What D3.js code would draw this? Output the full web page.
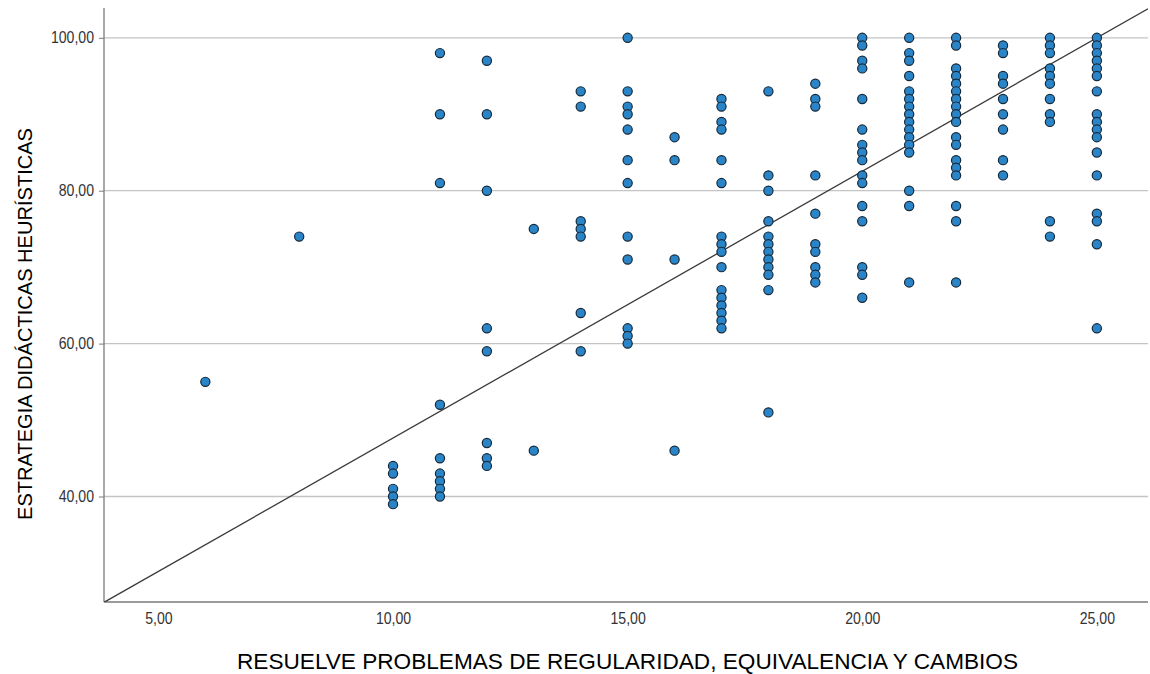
<!DOCTYPE html>
<html>
<head>
<meta charset="utf-8">
<script src="https://cdn.jsdelivr.net/npm/d3@7/dist/d3.min.js"></script>
<style>
  html, body { margin: 0; padding: 0; background: #fff; }
  svg { display: block; }
  .narrow { font-family: "Liberation Sans Narrow", "Arial Narrow", "Liberation Sans", Arial, sans-serif; }
</style>
</head>
<body>
<svg id="chart" width="1150" height="674"></svg>
<script>
// Scores per respondent, grouped by the x score (each x value and the y scores observed at it)
const xScores = [6, 8, 10, 11, 12, 13, 14, 15, 16, 17, 18, 19, 20, 21, 22, 23, 24, 25];
const yScoresByX = [
  [55],
  [74],
  [44, 43, 41, 40, 39],
  [98, 90, 81, 52, 45, 43, 42, 41, 40],
  [97, 90, 80, 62, 59, 47, 45, 44],
  [75, 46],
  [93, 91, 76, 75, 74, 64, 59],
  [100, 93, 91, 90, 88, 84, 81, 74, 71, 62, 61, 60],
  [87, 84, 71, 46],
  [92, 91, 89, 88, 84, 81, 74, 73, 72, 70, 67, 66, 65, 64, 63, 62],
  [93, 82, 80, 76, 74, 73, 72, 71, 70, 69, 67, 51],
  [94, 92, 91, 82, 77, 73, 72, 70, 69, 68],
  [100, 99, 97, 96, 92, 88, 86, 85, 84, 82, 81, 78, 76, 70, 69, 66],
  [100, 98, 97, 95, 93, 92, 91, 90, 89, 88, 87, 86, 85, 80, 78, 68],
  [100, 99, 96, 95, 94, 93, 92, 91, 90, 89, 87, 86, 84, 83, 82, 78, 76, 68],
  [99, 98, 95, 94, 92, 90, 88, 84, 82],
  [100, 99, 98, 96, 95, 94, 92, 90, 89, 76, 74],
  [100, 99, 98, 97, 96, 95, 93, 90, 89, 88, 87, 85, 82, 77, 76, 73, 62]
];
const xTicks = [5, 10, 15, 20, 25];
const yTicks = [40, 60, 80, 100];
// Linear fit line: y = fitIntercept + fitSlope * x
const fitIntercept = 12.75;
const fitSlope = 3.49;
const xTitle = "RESUELVE PROBLEMAS DE REGULARIDAD, EQUIVALENCIA Y CAMBIOS";
const yTitle = "ESTRATEGIA DIDÁCTICAS HEURÍSTICAS";

const points = [];
xScores.forEach((x, i) => yScoresByX[i].forEach(y => points.push({ x, y })));

const plot = { left: 104, right: 1148, top: 8, bottom: 602 };
const x = d3.scaleLinear().domain([3.84, 26.09]).range([plot.left, plot.right]);
const y = d3.scaleLinear().domain([26.2, 103.9]).range([plot.bottom, plot.top]);
const fmt = v => d3.format(".2f")(v).replace(".", ",");

const svg = d3.select("#chart");

svg.append("defs").append("clipPath").attr("id", "plotClip")
  .append("rect")
  .attr("x", plot.left).attr("y", plot.top)
  .attr("width", plot.right - plot.left).attr("height", plot.bottom - plot.top);

// horizontal gridlines
svg.append("g")
  .selectAll("line")
  .data(yTicks)
  .join("line")
  .attr("x1", plot.left).attr("x2", plot.right)
  .attr("y1", d => y(d)).attr("y2", d => y(d))
  .attr("stroke", "#c4c4c4").attr("stroke-width", 1.3);

// y axis
const yAxis = svg.append("g")
  .attr("transform", `translate(${plot.left},0)`)
  .call(d3.axisLeft(y).tickValues(yTicks).tickFormat(fmt).tickSize(5).tickPadding(5));
yAxis.select(".domain").attr("d", `M0,${plot.top}V${plot.bottom}`);

// x axis
const xAxis = svg.append("g")
  .attr("transform", `translate(0,${plot.bottom})`)
  .call(d3.axisBottom(x).tickValues(xTicks).tickFormat(fmt).tickSize(0).tickPadding(11));
xAxis.select(".domain").attr("d", `M${plot.left},0H${plot.right}`);

// condense text horizontally (narrow face look)
function condense(sel, factor) {
  sel.each(function () {
    const w = this.getComputedTextLength();
    d3.select(this).attr("textLength", w * factor).attr("lengthAdjust", "spacingAndGlyphs");
  });
}

[yAxis, xAxis].forEach(ax => {
  ax.attr("font-size", null).attr("font-family", null);
  ax.select(".domain").attr("stroke", "#7a7a7a").attr("stroke-width", 1.3);
  ax.selectAll(".tick line").attr("stroke", "#7a7a7a");
  ax.selectAll(".tick text")
    .attr("class", "narrow")
    .attr("fill", "#333")
    .attr("font-size", 16)
    .style("font-size", "16px");
  condense(ax.selectAll(".tick text"), 0.88);
});

// fit line
svg.append("line")
  .attr("clip-path", "url(#plotClip)")
  .attr("x1", x(x.domain()[0])).attr("y1", y(fitIntercept + fitSlope * x.domain()[0]))
  .attr("x2", x(x.domain()[1])).attr("y2", y(fitIntercept + fitSlope * x.domain()[1]))
  .attr("stroke", "#3a3a3a").attr("stroke-width", 1.3);

// scatter points
svg.append("g")
  .selectAll("circle")
  .data(points)
  .join("circle")
  .attr("cx", d => x(d.x))
  .attr("cy", d => y(d.y))
  .attr("r", 4.6)
  .attr("fill", "#2a85c8")
  .attr("stroke", "#15293a")
  .attr("stroke-width", 1.2);

// axis titles
svg.append("text")
  .attr("class", "narrow")
  .attr("x", 237).attr("y", 669)
  .attr("textLength", 781).attr("lengthAdjust", "spacingAndGlyphs")
  .attr("fill", "#000")
  .style("font-size", "22px")
  .text(xTitle);

svg.append("text")
  .attr("class", "narrow")
  .attr("transform", "translate(32,520) rotate(-90)")
  .attr("textLength", 392).attr("lengthAdjust", "spacingAndGlyphs")
  .attr("fill", "#000")
  .style("font-size", "21px")
  .text(yTitle);
</script>
</body>
</html>
